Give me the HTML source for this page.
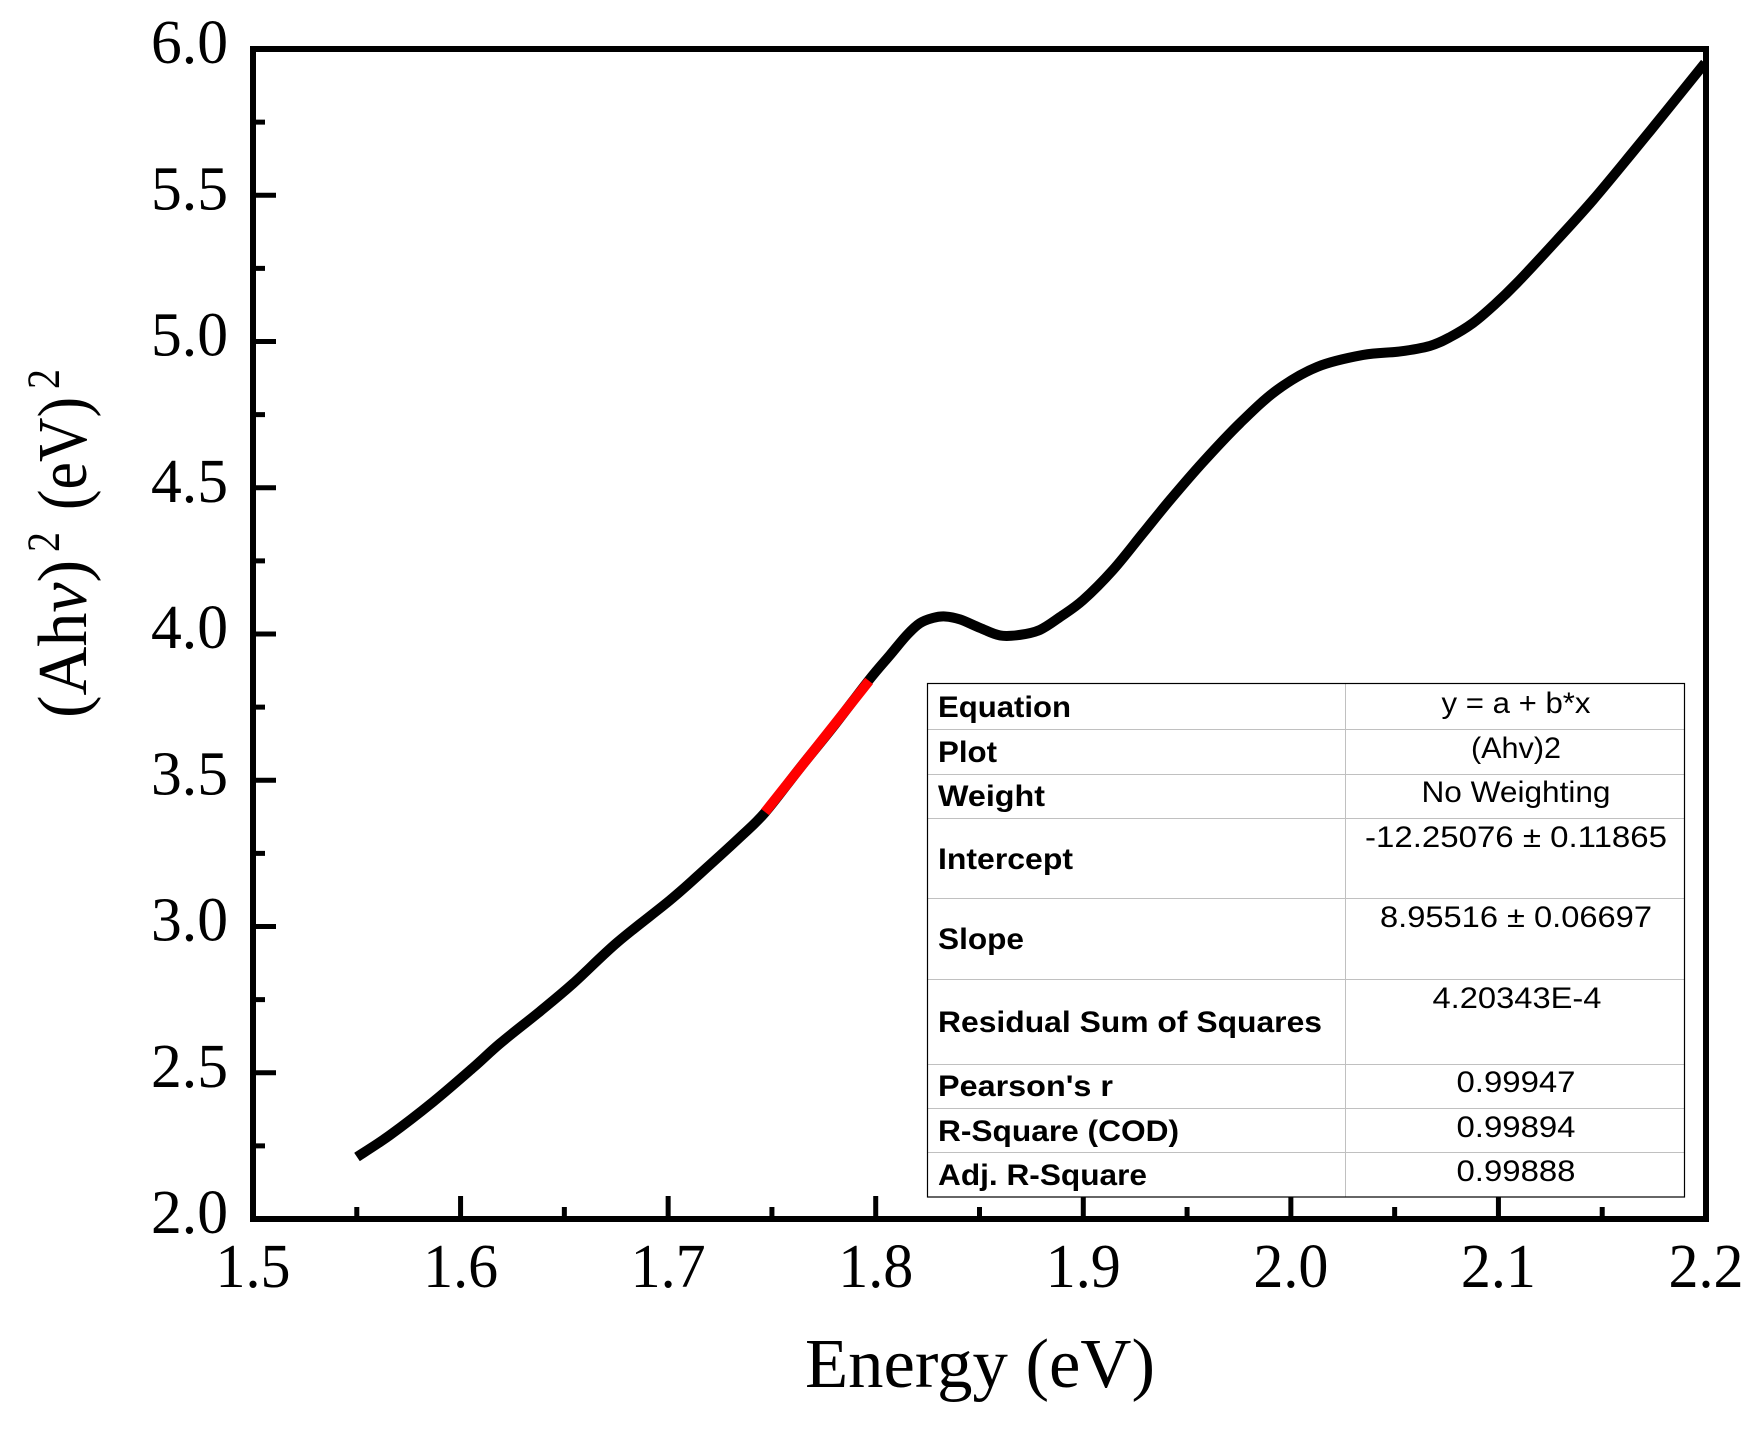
<!DOCTYPE html>
<html lang="en">
<head>
<meta charset="utf-8">
<title>Tauc plot</title>
<style>
html,body{margin:0;padding:0;background:#fff;}
svg{display:block;}
.serif{font-family:"Liberation Serif",serif;fill:#000;}
.lbl{font-family:"Liberation Sans",sans-serif;font-weight:bold;font-size:30px;fill:#000;}
.val{font-family:"Liberation Sans",sans-serif;font-size:30px;fill:#000;text-anchor:middle;}
</style>
</head>
<body>
<svg id="chart" xmlns="http://www.w3.org/2000/svg" width="1762" height="1429" viewBox="0 0 1762 1429">
  <rect x="0" y="0" width="1762" height="1429" fill="#fff"/>
  <g id="ticks"></g>
  <g id="tickLabels"></g>
  <g id="series"></g>
  <rect x="253" y="49" width="1453" height="1170" fill="none" stroke="#000" stroke-width="6"/>

  <text class="serif" x="805" y="1387" font-size="70" textLength="350" lengthAdjust="spacingAndGlyphs">Energy (eV)</text>

  <g transform="translate(86,718) rotate(-90)">
    <text class="serif" x="0" y="0" font-size="70" textLength="158" lengthAdjust="spacingAndGlyphs">(Ah<tspan font-style="italic">v</tspan>)</text>
    <text class="serif" x="166" y="-27" font-size="47" textLength="20" lengthAdjust="spacingAndGlyphs">2</text>
    <text class="serif" x="208" y="0" font-size="70" textLength="113" lengthAdjust="spacingAndGlyphs">(eV)</text>
    <text class="serif" x="329" y="-27" font-size="47" textLength="20" lengthAdjust="spacingAndGlyphs">2</text>
  </g>

  <g>
    <rect x="927.5" y="683.5" width="757" height="513.5" fill="#fff" stroke="none"/>
    <g stroke="#c0c0c0" stroke-width="1">
      <line x1="927" x2="1684" y1="729.5" y2="729.5"/>
      <line x1="927" x2="1684" y1="774.5" y2="774.5"/>
      <line x1="927" x2="1684" y1="818.5" y2="818.5"/>
      <line x1="927" x2="1684" y1="898.5" y2="898.5"/>
      <line x1="927" x2="1684" y1="979.5" y2="979.5"/>
      <line x1="927" x2="1684" y1="1064.5" y2="1064.5"/>
      <line x1="927" x2="1684" y1="1108.5" y2="1108.5"/>
      <line x1="927" x2="1684" y1="1152.5" y2="1152.5"/>
      <line x1="1345.5" x2="1345.5" y1="683" y2="1197"/>
    </g>
    <rect x="927.5" y="683.5" width="757" height="513.5" fill="none" stroke="#000" stroke-width="1.2"/>

    <text class="lbl" x="938" y="717" textLength="133" lengthAdjust="spacingAndGlyphs">Equation</text>
    <text class="lbl" x="938" y="762" textLength="59" lengthAdjust="spacingAndGlyphs">Plot</text>
    <text class="lbl" x="938" y="806" textLength="107" lengthAdjust="spacingAndGlyphs">Weight</text>
    <text class="lbl" x="938" y="869" textLength="135" lengthAdjust="spacingAndGlyphs">Intercept</text>
    <text class="lbl" x="938" y="949" textLength="86" lengthAdjust="spacingAndGlyphs">Slope</text>
    <text class="lbl" x="938" y="1032" textLength="384" lengthAdjust="spacingAndGlyphs">Residual Sum of Squares</text>
    <text class="lbl" x="938" y="1096" textLength="175" lengthAdjust="spacingAndGlyphs">Pearson's r</text>
    <text class="lbl" x="938" y="1141" textLength="241" lengthAdjust="spacingAndGlyphs">R-Square (COD)</text>
    <text class="lbl" x="938" y="1185" textLength="209" lengthAdjust="spacingAndGlyphs">Adj. R-Square</text>

    <text class="val" x="1516" y="713" textLength="149" lengthAdjust="spacingAndGlyphs">y = a + b*x</text>
    <text class="val" x="1516" y="758" textLength="90" lengthAdjust="spacingAndGlyphs">(Ahv)2</text>
    <text class="val" x="1516" y="802" textLength="189" lengthAdjust="spacingAndGlyphs">No Weighting</text>
    <text class="val" x="1516" y="847" textLength="302" lengthAdjust="spacingAndGlyphs">-12.25076 ± 0.11865</text>
    <text class="val" x="1516" y="927" textLength="272" lengthAdjust="spacingAndGlyphs">8.95516 ± 0.06697</text>
    <text class="val" x="1517" y="1008" textLength="169" lengthAdjust="spacingAndGlyphs">4.20343E-4</text>
    <text class="val" x="1516" y="1092" textLength="119" lengthAdjust="spacingAndGlyphs">0.99947</text>
    <text class="val" x="1516" y="1137" textLength="119" lengthAdjust="spacingAndGlyphs">0.99894</text>
    <text class="val" x="1516" y="1181" textLength="119" lengthAdjust="spacingAndGlyphs">0.99888</text>
  </g>
</svg>
<script>
const energy = [1.5501,1.566,1.5867,1.606,1.619,1.6383,1.6542,1.6754,1.7009,1.7153,1.7346,1.7467,1.7635,1.7794,1.7968,1.8069,1.8151,1.8213,1.8276,1.8334,1.8406,1.8502,1.8599,1.8695,1.8791,1.8888,1.8999,1.9143,1.9288,1.9418,1.9577,1.9755,1.9933,2.0126,2.0348,2.0526,2.067,2.0767,2.0877,2.098,2.1089,2.1282,2.1456,2.1648,2.1812,2.1995];
const absorbance = [2.212,2.287,2.4,2.517,2.6,2.71,2.805,2.945,3.09,3.18,3.305,3.39,3.542,3.682,3.843,3.928,3.997,4.037,4.055,4.06,4.05,4.021,3.995,3.997,4.014,4.058,4.116,4.219,4.345,4.458,4.588,4.721,4.834,4.913,4.954,4.966,4.985,5.015,5.063,5.125,5.2,5.347,5.484,5.648,5.791,5.952];
const fitEnergy = [1.7467,1.7968];
const fitIntercept = -12.25076;
const fitSlope = 8.95516;
const xTickValues = [1.5,1.6,1.7,1.8,1.9,2.0,2.1,2.2];
const xTickLabels = ["1.5","1.6","1.7","1.8","1.9","2.0","2.1","2.2"];
const yTickValues = [2.0,2.5,3.0,3.5,4.0,4.5,5.0,5.5,6.0];
const yTickLabels = ["2.0","2.5","3.0","3.5","4.0","4.5","5.0","5.5","6.0"];

const NS = "http://www.w3.org/2000/svg";
const xScale = function (v) { return 253 + (v - 1.5) / 0.7 * 1453; };
const yScale = function (v) { return 1219 - (v - 2) / 4 * 1170; };

function smoothPath(xs, ys) {
  let d = "M" + xs[0].toFixed(2) + " " + ys[0].toFixed(2);
  for (let i = 0; i < xs.length - 1; i++) {
    const a = Math.max(i - 1, 0), b = i + 1, c = Math.min(i + 2, xs.length - 1);
    const c1x = xs[i] + (xs[b] - xs[a]) / 6, c1y = ys[i] + (ys[b] - ys[a]) / 6;
    const c2x = xs[b] - (xs[c] - xs[i]) / 6, c2y = ys[b] - (ys[c] - ys[i]) / 6;
    d += "C" + c1x.toFixed(2) + " " + c1y.toFixed(2) + " " + c2x.toFixed(2) + " " + c2y.toFixed(2) + " " + xs[b].toFixed(2) + " " + ys[b].toFixed(2);
  }
  return d;
}

const ticksG = document.getElementById("ticks");
const labelsG = document.getElementById("tickLabels");
const seriesG = document.getElementById("series");

function addLine(x1, y1, x2, y2, name) {
  const l = document.createElementNS(NS, "line");
  l.setAttribute("x1", x1);
  l.setAttribute("y1", y1);
  l.setAttribute("x2", x2);
  l.setAttribute("y2", y2);
  l.setAttribute("stroke", "#000");
  l.setAttribute("stroke-width", "5");
  
  
  ticksG.appendChild(l);
}

xTickValues.forEach(function (v, i) {
  const px = xScale(v);
  addLine(px, 1219, px, 1196, "x-major-tick");
  if (i < xTickValues.length - 1) {
    const m = xScale((v + xTickValues[i + 1]) / 2);
    addLine(m, 1219, m, 1207, "x-minor-tick");
  }
  const t = document.createElementNS(NS, "text");
  t.setAttribute("class", "serif");
  t.setAttribute("x", px);
  t.setAttribute("y", 1287);
  t.setAttribute("font-size", "62");
  t.setAttribute("text-anchor", "middle");
  t.setAttribute("textLength", "75");
  t.setAttribute("lengthAdjust", "spacingAndGlyphs");
  
  
  t.textContent = xTickLabels[i];
  labelsG.appendChild(t);
});

yTickValues.forEach(function (v, i) {
  const py = yScale(v);
  addLine(253, py, 276, py, "y-major-tick");
  if (i < yTickValues.length - 1) {
    const m = yScale((v + yTickValues[i + 1]) / 2);
    addLine(253, m, 265, m, "y-minor-tick");
  }
  const t = document.createElementNS(NS, "text");
  t.setAttribute("class", "serif");
  t.setAttribute("x", 228);
  t.setAttribute("y", py + 14);
  t.setAttribute("font-size", "62");
  t.setAttribute("text-anchor", "end");
  t.setAttribute("textLength", "77");
  t.setAttribute("lengthAdjust", "spacingAndGlyphs");
  
  
  t.textContent = yTickLabels[i];
  labelsG.appendChild(t);
});

const curve = document.createElementNS(NS, "path");
curve.setAttribute("d", smoothPath(energy.map(xScale), absorbance.map(yScale)));
curve.setAttribute("fill", "none");
curve.setAttribute("stroke", "#000");
curve.setAttribute("stroke-width", "10");
curve.setAttribute("stroke-linejoin", "round");


seriesG.appendChild(curve);

const fit = document.createElementNS(NS, "line");
fit.setAttribute("x1", xScale(fitEnergy[0]));
fit.setAttribute("y1", yScale(fitIntercept + fitSlope * fitEnergy[0]));
fit.setAttribute("x2", xScale(fitEnergy[1]));
fit.setAttribute("y2", yScale(fitIntercept + fitSlope * fitEnergy[1]));
fit.setAttribute("stroke", "#ff0000");
fit.setAttribute("stroke-width", "10");


seriesG.appendChild(fit);
</script>
</body>
</html>
